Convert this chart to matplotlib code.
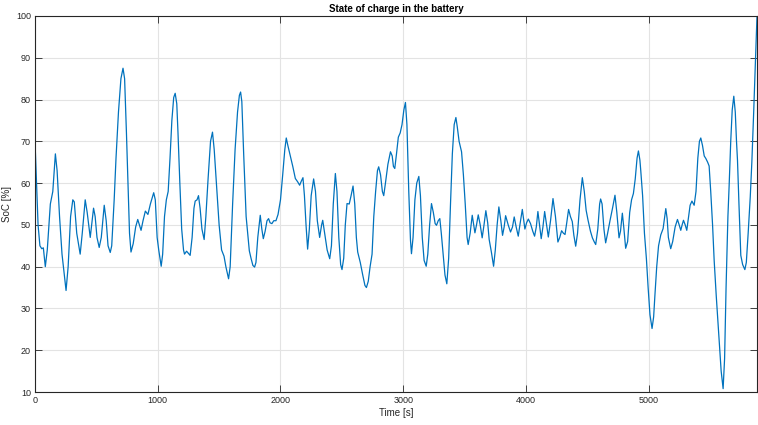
import matplotlib
matplotlib.use("Agg")
import matplotlib.pyplot as plt

# Battery state of charge over the drive cycle
time_s = [
    0, 10, 25, 40, 55, 68, 84, 100, 125, 145, 166, 180, 200, 220, 253, 270, 290, 308, 320, 340,
    368, 385, 409, 425, 450, 465, 477, 490, 505, 523, 540, 564, 580, 595, 613, 625, 645, 660, 680, 700,
    717, 730, 745, 760, 770, 782, 800, 820, 837, 864, 880, 899, 920, 940, 967, 980, 995, 1008, 1028, 1040,
    1055, 1070, 1085, 1100, 1115, 1130, 1142, 1155, 1165, 1180, 1195, 1210, 1218, 1235, 1250, 1264, 1280, 1295, 1305, 1320,
    1332, 1345, 1360, 1378, 1392, 1410, 1430, 1446, 1460, 1480, 1500, 1520, 1540, 1555, 1577, 1590, 1610, 1630, 1650, 1665,
    1675, 1685, 1700, 1720, 1746, 1760, 1775, 1789, 1800, 1815, 1835, 1848, 1860, 1875, 1890, 1903, 1915, 1930, 1945, 1963,
    1980, 2000, 2018, 2035, 2047, 2060, 2080, 2100, 2121, 2140, 2156, 2170, 2183, 2195, 2208, 2221, 2235, 2250, 2270, 2285,
    2300, 2319, 2335, 2344, 2360, 2380, 2401, 2415, 2430, 2447, 2460, 2475, 2490, 2501, 2515, 2528, 2542, 2560, 2575, 2591,
    2605, 2618, 2629, 2650, 2670, 2688, 2700, 2715, 2730, 2746, 2760, 2775, 2790, 2800, 2815, 2830, 2841, 2855, 2875, 2896,
    2910, 2920, 2931, 2945, 2960, 2975, 2990, 3005, 3018, 3030, 3045, 3059, 3067, 3080, 3095, 3110, 3127, 3140, 3155, 3170,
    3187, 3200, 3215, 3230, 3245, 3260, 3271, 3285, 3298, 3310, 3325, 3340, 3355, 3370, 3385, 3400, 3415, 3429, 3440, 3455,
    3475, 3490, 3505, 3520, 3529, 3545, 3562, 3574, 3584, 3597, 3611, 3627, 3643, 3658, 3673, 3688, 3700, 3718, 3736, 3750,
    3765, 3779, 3795, 3809, 3822, 3834, 3855, 3874, 3890, 3904, 3920, 3937, 3953, 3970, 3982, 3991, 4005, 4019, 4037, 4055,
    4070, 4084, 4097, 4110, 4124, 4138, 4152, 4168, 4182, 4200, 4220, 4240, 4260, 4275, 4290, 4305, 4318, 4332, 4347, 4362,
    4377, 4390, 4405, 4420, 4440, 4459, 4475, 4490, 4505, 4525, 4541, 4555, 4568, 4585, 4600, 4608, 4620, 4635, 4649, 4665,
    4685, 4705, 4725, 4740, 4758, 4770, 4785, 4798, 4812, 4828, 4845, 4860, 4875, 4890, 4905, 4916, 4928, 4935, 4950, 4965,
    4981, 4995, 5010, 5027, 5040, 5050, 5065, 5080, 5098, 5117, 5128, 5139, 5150, 5160, 5179, 5195, 5215, 5234, 5248, 5261,
    5272, 5283, 5297, 5310, 5325, 5337, 5352, 5370, 5385, 5400, 5413, 5424, 5438, 5452, 5465, 5480, 5492, 5505, 5520, 5533,
    5550, 5570, 5590, 5606, 5618, 5630, 5645, 5655, 5668, 5680, 5693, 5705, 5715, 5723, 5735, 5750, 5765, 5783, 5795, 5810,
    5827, 5840, 5855, 5870, 5882,
]

soc_pct = [
    70, 62, 50, 45, 44.3, 44.5, 40, 44, 55, 58, 67, 63, 52, 43, 34.3, 40, 52, 56, 55.5, 48,
    43, 48, 56, 53, 47, 51, 54, 52, 47, 44.6, 47, 54.7, 51, 45, 43.4, 45, 56, 66, 77, 85,
    87.5, 85, 72, 58, 48, 43.5, 45.5, 49.5, 51.3, 48.7, 51, 53.3, 52.5, 55, 57.7, 56, 47, 44, 40.1, 43,
    52, 56, 58, 66, 75, 80.5, 81.5, 79, 72, 60, 49, 44, 43, 43.7, 43.2, 42.7, 47, 54, 55.7, 56,
    57, 54, 49, 46.5, 52, 61, 70, 72.2, 68, 59, 50, 44, 42.5, 40, 37.1, 40, 55, 68, 77, 81,
    81.8, 79.5, 67, 52, 43.8, 42, 40.3, 39.9, 41, 47, 52.3, 49, 46.7, 48.5, 51, 51.5, 50.5, 50.3, 51, 51,
    52.5, 56, 62, 68, 70.8, 69, 66.5, 64, 61.1, 60.3, 59.5, 60.5, 61.3, 57, 50, 44.2, 49, 57, 61, 58,
    51, 47, 50, 51.1, 48, 44, 41.9, 45, 55, 62.3, 58, 47, 40.5, 39.3, 42, 50, 55.1, 55, 57, 59.3,
    55, 47, 43.5, 41, 38, 35.5, 35, 36.5, 40, 43, 52, 58, 63, 63.9, 62, 58, 57, 60, 64.5, 67.5,
    66.5, 64, 63.5, 67, 71, 72, 74, 77.5, 79.3, 74, 58, 46.3, 43.1, 47, 56, 60, 61.6, 57, 47, 41.5,
    40.1, 43, 50, 55.1, 53, 50.3, 49.9, 51, 51.5, 48, 43, 38, 35.9, 42, 55, 67, 74, 75.7, 73.5, 70,
    67.5, 62, 55, 47, 45.3, 48, 52.3, 50, 48.1, 50, 52.4, 50, 46.9, 50, 53.4, 50.5, 46.5, 43.5, 40.1, 44,
    50, 54.3, 51, 47.5, 49.5, 52.2, 50, 48.3, 49.5, 51.9, 49.5, 47.3, 50.5, 53.7, 51, 49, 50.5, 51.4, 50.3, 48.5,
    47.3, 49.5, 53.2, 50, 46.7, 49.5, 53.2, 50, 47.1, 51, 56.3, 52, 45.9, 47, 48.6, 48, 47.7, 50.5, 53.7, 52,
    50.8, 47.5, 44.9, 48, 56, 61.3, 58, 53.5, 51.2, 48.5, 46.9, 46, 45.3, 49, 55, 56.2, 55, 49, 45.7, 48,
    51.1, 54, 57.1, 53, 46.9, 48.5, 52.8, 49, 44.4, 46, 53, 56, 57.5, 61, 66, 67.7, 65.5, 63, 57, 48,
    41.9, 35, 28.5, 25.2, 28, 33, 40, 45, 47.6, 49.1, 51.5, 53.9, 51.5, 47, 44.3, 46, 49.5, 51.3, 50, 48.7,
    50, 51.1, 50, 48.7, 52, 54.7, 55.7, 54.7, 58, 66, 70, 70.8, 69, 66.5, 65.9, 65, 64.1, 58, 50, 41.5,
    33, 24, 15, 10.8, 18, 35, 52, 59.4, 70, 77.5, 80.8, 77, 70, 65.5, 55, 42.7, 40.5, 39.3, 41, 48,
    56.7, 65, 77, 90, 100,
]

x_ticks = [0, 1000, 2000, 3000, 4000, 5000]
y_ticks = [10, 20, 30, 40, 50, 60, 70, 80, 90, 100]

plt.rcParams['font.family'] = ['Liberation Sans', 'DejaVu Sans']

fig = plt.figure(figsize=(7.58, 4.25), dpi=100)
ax = fig.add_axes([35 / 758, 33 / 425, 722 / 758, 376 / 425])

ax.plot(time_s, soc_pct, color='#0072BD', linewidth=0.9, solid_joinstyle='round')

ax.set_xlim(0, 5882)
ax.set_ylim(10, 100)
ax.set_xticks(x_ticks)
ax.set_yticks(y_ticks)

ax.grid(True, color='#e3e3e3', linewidth=0.8)
ax.set_axisbelow(True)

edge = '#262626'
for sp in ax.spines.values():
    sp.set_color(edge)
    sp.set_linewidth(0.8)

ax.tick_params(direction='in', length=5, width=0.6, colors=edge,
               labelsize=6.5, top=True, right=True, pad=3)

ax.set_title('State of charge in the battery', fontsize=7, fontweight='bold',
             color='black', pad=3)
ax.set_xlabel('Time [s]', fontsize=7, color=edge, labelpad=2)
ax.set_ylabel('SoC [%]', fontsize=7, color=edge, labelpad=3)

fig.savefig('out.png', dpi=100, facecolor='white')
